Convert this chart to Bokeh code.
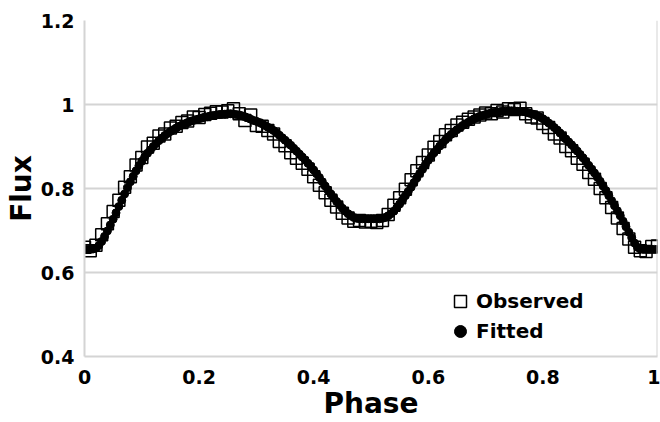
import numpy as np
from bokeh.plotting import figure
from bokeh.models import Range1d, FixedTicker, Span, Legend, LegendItem
from bokeh.embed import file_html
from bokeh.resources import INLINE

# ---- data ----
x_ticks = [0.0, 0.2, 0.4, 0.6, 0.8, 1.0]
x_tick_labels = ["0", "0.2", "0.4", "0.6", "0.8", "1"]
y_ticks = [0.4, 0.6, 0.8, 1.0, 1.2]
y_tick_labels = ["0.4", "0.6", "0.8", "1", "1.2"]

obs_phase = np.round(np.arange(0, 101) * 0.01, 3)
obs_flux = [
    0.660, 0.652, 0.665, 0.690, 0.716, 0.745, 0.772, 0.803, 0.828, 0.856,
    0.874, 0.899, 0.908, 0.925, 0.930, 0.944, 0.948, 0.957, 0.961, 0.970,
    0.969, 0.976, 0.979, 0.983, 0.982, 0.985, 0.990, 0.978, 0.962, 0.975,
    0.950, 0.948, 0.938, 0.930, 0.912, 0.902, 0.885, 0.872, 0.860, 0.846,
    0.828, 0.808, 0.790, 0.772, 0.756, 0.741, 0.730, 0.722, 0.724, 0.720,
    0.722, 0.719, 0.724, 0.738, 0.760, 0.778, 0.798, 0.821, 0.842, 0.862,
    0.880, 0.898, 0.912, 0.928, 0.938, 0.951, 0.958, 0.965, 0.970, 0.975,
    0.980, 0.978, 0.986, 0.982, 0.990, 0.988, 0.991, 0.978, 0.970, 0.968,
    0.955, 0.945, 0.930, 0.920, 0.900, 0.890, 0.872, 0.858, 0.838, 0.822,
    0.800, 0.778, 0.755, 0.730, 0.705, 0.680, 0.660, 0.652, 0.650, 0.662,
    0.663,
]

fit_phase = np.round(np.arange(0, 201) * 0.005, 3)
fit_flux = [
    0.655, 0.655, 0.655, 0.656, 0.658, 0.664, 0.674, 0.686, 0.699, 0.713,
    0.727, 0.742, 0.757, 0.772, 0.787, 0.802, 0.816, 0.829, 0.842, 0.854,
    0.865, 0.875, 0.884, 0.892, 0.900, 0.907, 0.914, 0.920, 0.926, 0.931,
    0.936, 0.940, 0.944, 0.948, 0.951, 0.954, 0.957, 0.960, 0.962, 0.964,
    0.966, 0.968, 0.970, 0.971, 0.973, 0.974, 0.975, 0.976, 0.977, 0.977,
    0.978, 0.978, 0.977, 0.976, 0.975, 0.973, 0.971, 0.968, 0.965, 0.962,
    0.960, 0.957, 0.954, 0.950, 0.946, 0.942, 0.938, 0.933, 0.927, 0.921,
    0.915, 0.909, 0.903, 0.896, 0.889, 0.882, 0.875, 0.868, 0.860, 0.853,
    0.844, 0.835, 0.826, 0.816, 0.806, 0.796, 0.787, 0.778, 0.769, 0.761,
    0.753, 0.746, 0.740, 0.735, 0.731, 0.729, 0.728, 0.728, 0.728, 0.728,
    0.728, 0.728, 0.728, 0.728, 0.729, 0.731, 0.735, 0.740, 0.746, 0.754,
    0.763, 0.773, 0.783, 0.793, 0.803, 0.814, 0.825, 0.836, 0.846, 0.857,
    0.867, 0.876, 0.885, 0.893, 0.901, 0.909, 0.916, 0.923, 0.929, 0.935,
    0.940, 0.945, 0.950, 0.954, 0.958, 0.962, 0.966, 0.969, 0.972, 0.974,
    0.976, 0.978, 0.980, 0.981, 0.982, 0.983, 0.984, 0.984, 0.985, 0.985,
    0.985, 0.984, 0.984, 0.983, 0.982, 0.980, 0.978, 0.976, 0.973, 0.970,
    0.966, 0.961, 0.956, 0.951, 0.945, 0.939, 0.932, 0.925, 0.918, 0.911,
    0.904, 0.897, 0.889, 0.881, 0.873, 0.864, 0.855, 0.846, 0.837, 0.827,
    0.817, 0.806, 0.795, 0.783, 0.771, 0.759, 0.747, 0.735, 0.722, 0.709,
    0.696, 0.683, 0.670, 0.660, 0.656, 0.655, 0.655, 0.655, 0.655, 0.655,
    0.655,
]

FONT = "DejaVu Sans"
GRID = "#d4d4d4"

p = figure(width=660, height=422, output_backend="svg", toolbar_location=None,
           x_range=Range1d(0, 1), y_range=Range1d(0.4, 1.2),
           min_border_left=84, min_border_right=3, min_border_top=20,
           min_border_bottom=65)
p.outline_line_color = None
p.background_fill_color = "white"

obs = p.scatter(obs_phase, obs_flux, marker="square", size=12,
                fill_color=None, line_color="black", line_width=1.5)
fit = p.scatter(fit_phase, fit_flux, marker="circle", size=8,
                fill_color="black", line_color="black")

p.xgrid.visible = False
p.ygrid.grid_line_color = GRID
p.ygrid.grid_line_width = 2
p.ygrid.ticker = FixedTicker(ticks=y_ticks)

p.add_layout(Span(location=1.0, dimension="height", line_color=GRID, line_width=2))

for ax in (p.xaxis[0], p.yaxis[0]):
    ax.major_tick_in = 0
    ax.major_tick_out = 0
    ax.minor_tick_in = 0
    ax.minor_tick_out = 0
    ax.axis_line_color = GRID
    ax.axis_line_width = 2
    ax.major_label_text_font = FONT
    ax.major_label_text_font_style = "bold"
    ax.major_label_text_font_size = "19px"
    ax.major_label_text_color = "black"
    ax.axis_label_text_font = FONT
    ax.axis_label_text_font_style = "bold"
    ax.axis_label_text_font_size = "28px"
    ax.axis_label_text_color = "black"

p.xaxis.ticker = FixedTicker(ticks=x_ticks)
p.xaxis.major_label_overrides = dict(zip(x_ticks, x_tick_labels))
p.xaxis.axis_label = "Phase"
p.xaxis.major_label_standoff = 13
p.xaxis.axis_label_standoff = 0

p.yaxis.ticker = FixedTicker(ticks=y_ticks)
p.yaxis.major_label_overrides = dict(zip(y_ticks, y_tick_labels))
p.yaxis.axis_label = "Flux"
p.yaxis.major_label_standoff = 10
p.yaxis.axis_label_standoff = 0

legend = Legend(items=[LegendItem(label="Observed", renderers=[obs]),
                       LegendItem(label="Fitted", renderers=[fit])],
                location=(361, 10), background_fill_alpha=0,
                border_line_color=None, padding=10, spacing=-4,
                glyph_width=30, glyph_height=30, label_standoff=1,
                label_text_font=FONT, label_text_font_style="bold",
                label_text_font_size="20px", label_text_color="black")
p.add_layout(legend)

open("out.html", "w").write(file_html(p, INLINE))
